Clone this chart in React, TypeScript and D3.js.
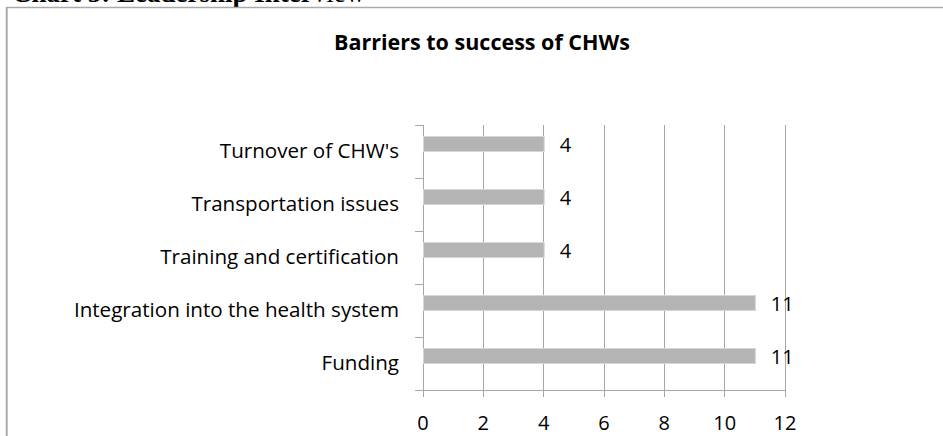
import React from 'react';
import * as d3 from 'd3';

const categories = ["Turnover of CHW's", "Transportation issues", "Training and certification", "Integration into the health system", "Funding"];
const values = [4, 4, 4, 11, 11];
const xTicks = [0, 2, 4, 6, 8, 10, 12];
const chartTitle = "Barriers to success of CHWs";
const headingBold = "Chart 5: Leadership Inter";
const headingRest = "view";

export default function App() {
  const W = 943, H = 436;
  const left = 423, right = 785, top = 125, bottom = 390;
  const x = d3.scaleLinear().domain([0, 12]).range([left, right]);
  const y = d3.scaleBand<string>().domain(categories).range([top, bottom]).padding(0);
  const bw = y.bandwidth();
  const font = "'Open Sans', sans-serif";
  const grid = '#a6a6a6';
  const bands = categories.map((c) => y(c) as number).concat([bottom]);

  return (
    <svg width={W} height={H} style={{ position: 'absolute', left: 0, top: 0, display: 'block', background: '#fff' }}>
      <rect x={0} y={0} width={W} height={H} fill="#fff" />
      <text x={12} y={2} fontFamily="'Liberation Serif', 'Times New Roman', serif" fontSize={27} fontWeight="bold" fill="#000">
        {headingBold}
        <tspan fontWeight="normal">{headingRest}</tspan>
      </text>
      {/* frame */}
      <line x1={6} x2={W} y1={7.5} y2={7.5} stroke="#aaaaaa" strokeWidth={1.5} />
      <line x1={6.7} x2={6.7} y1={7} y2={H} stroke="#aaaaaa" strokeWidth={2} />
      <text x={482} y={50} textAnchor="middle" fontFamily={font} fontWeight="bold" fontSize={21.5} fill="#000">{chartTitle}</text>
      {/* gridlines */}
      {xTicks.map((t) => (
        <line key={'g' + t} x1={x(t)} x2={x(t)} y1={top} y2={bottom + 7} stroke={grid} strokeWidth={1} shapeRendering="crispEdges" />
      ))}
      {/* y axis */}
      <line x1={left} x2={left} y1={top} y2={bottom} stroke={grid} strokeWidth={1} shapeRendering="crispEdges" />
      {bands.map((b, i) => (
        <line key={'yt' + i} x1={left - 8} x2={left} y1={b} y2={b} stroke={grid} strokeWidth={1} shapeRendering="crispEdges" />
      ))}
      {/* x axis */}
      <line x1={left - 8} x2={right} y1={bottom} y2={bottom} stroke={grid} strokeWidth={1} shapeRendering="crispEdges" />
      {/* bars */}
      {categories.map((c, i) => {
        const y0 = (y(c) as number) + bw * (11.5 / 53);
        const h = bw * (15 / 53);
        return (
          <g key={'b' + i}>
            <rect x={x(0) + 0.5} y={y0} width={x(values[i]) - x(0)} height={h} fill="#b4b4b4" stroke="#d6d6d6" strokeWidth={1} />
            <text x={x(values[i]) + 16} y={y0 + h / 2 + 7.5} fontFamily={font} fontSize={20} fill="#000">{values[i]}</text>
          </g>
        );
      })}
      {/* category labels */}
      {categories.map((c, i) => (
        <text key={'c' + i} x={399} y={(y(c) as number) + bw / 2 + 6.7} textAnchor="end" fontFamily={font} fontSize={20.6} fill="#000">{c}</text>
      ))}
      {/* tick labels */}
      {xTicks.map((t) => (
        <text key={'t' + t} x={x(t)} y={430} textAnchor="middle" fontFamily={font} fontSize={20} fill="#000">{t}</text>
      ))}
    </svg>
  );
}
